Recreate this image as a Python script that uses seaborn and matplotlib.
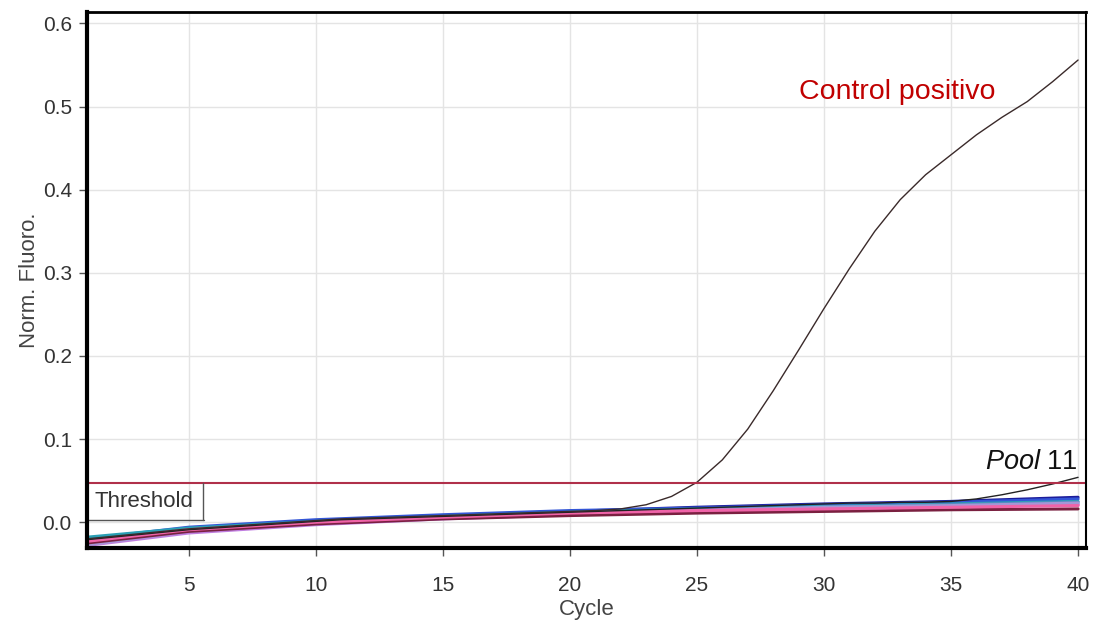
import numpy as np
import pandas as pd
import matplotlib
matplotlib.use("Agg")
import matplotlib.pyplot as plt
import seaborn as sns

# ---- data ----
cycles = list(range(1, 41))
control_positivo = [-0.020, -0.017, -0.014, -0.011, -0.008, -0.006, -0.004, -0.002, 0.000, 0.002,
                    0.004, 0.005, 0.006, 0.007, 0.008, 0.009, 0.010, 0.011, 0.012, 0.013,
                    0.014, 0.016, 0.021, 0.031, 0.048, 0.075, 0.112, 0.158, 0.207, 0.257,
                    0.305, 0.350, 0.388, 0.418, 0.442, 0.466, 0.487, 0.506, 0.530, 0.556]
pool11 = [-0.021, -0.018, -0.015, -0.012, -0.009, -0.007, -0.005, -0.003, -0.001, 0.001,
          0.003, 0.004, 0.005, 0.006, 0.007, 0.008, 0.009, 0.010, 0.011, 0.012,
          0.013, 0.014, 0.015, 0.016, 0.017, 0.018, 0.019, 0.020, 0.021, 0.022,
          0.023, 0.023, 0.024, 0.024, 0.025, 0.028, 0.033, 0.039, 0.046, 0.054]

neg_cycles = [1, 5, 10, 15, 20, 25, 30, 35, 40]
negatives = {
    "N1": [-0.022, -0.008, 0.002, 0.008, 0.013, 0.018, 0.022, 0.025, 0.030],
    "N2": [-0.020, -0.006, 0.003, 0.009, 0.014, 0.017, 0.021, 0.024, 0.028],
    "N3": [-0.018, -0.007, 0.001, 0.007, 0.012, 0.016, 0.019, 0.022, 0.025],
    "N4": [-0.024, -0.010, 0.000, 0.006, 0.011, 0.015, 0.018, 0.021, 0.024],
    "N5": [-0.026, -0.012, -0.002, 0.005, 0.010, 0.014, 0.017, 0.019, 0.021],
    "N6": [-0.028, -0.013, -0.003, 0.004, 0.009, 0.013, 0.016, 0.019, 0.022],
    "N7": [-0.027, -0.011, -0.001, 0.005, 0.010, 0.014, 0.018, 0.020, 0.023],
    "N8": [-0.025, -0.011, -0.002, 0.004, 0.008, 0.011, 0.013, 0.015, 0.016],
    "N9": [-0.023, -0.009, 0.000, 0.006, 0.011, 0.014, 0.016, 0.018, 0.020],
}
neg_colors = ["#1c1c9a", "#3355d6", "#2a9fb4", "#5b8cc2", "#e040c8",
              "#c07ee0", "#a596d6", "#7a2040", "#f063a8"]
threshold = 0.047
x_ticks = [5, 10, 15, 20, 25, 30, 35, 40]
y_ticks = [0.0, 0.1, 0.2, 0.3, 0.4, 0.5, 0.6]

# ---- plot ----
sns.set_style("whitegrid")
plt.rcParams["font.family"] = ["Liberation Sans", "DejaVu Sans"]
plt.rcParams["mathtext.fontset"] = "custom"
plt.rcParams["mathtext.rm"] = "Liberation Sans"
plt.rcParams["mathtext.it"] = "Liberation Sans:italic"

fig = plt.figure(figsize=(10.95, 6.22), dpi=100)
ax = fig.add_axes([0.0795, 0.119, 0.912, 0.862])

neg_df = pd.DataFrame([
    {"Cycle": c, "Fluoro": v, "Sample": name}
    for name, vals in negatives.items() for c, v in zip(neg_cycles, vals)
])
sns.lineplot(data=neg_df, x="Cycle", y="Fluoro", hue="Sample",
             palette=dict(zip(negatives.keys(), neg_colors)),
             linewidth=2.2, legend=False, ax=ax, estimator=None)

sns.lineplot(x=cycles, y=pool11, color="#222222", linewidth=1.0, ax=ax)
sns.lineplot(x=cycles, y=control_positivo, color="#3a2a2a", linewidth=1.0, ax=ax)

ax.axhline(threshold, color="#b0304a", linewidth=1.5)
ax.axhline(0.0025, xmin=0, xmax=0.117, color="#555555", linewidth=1.0)
ax.text(1.3, threshold / 2 + 0.002, "Threshold", fontsize=16, color="#333333",
        va="center", ha="left")
ax.plot([5.55, 5.55], [0.0025, threshold], color="#555555", linewidth=1.0)

ax.text(29.0, 0.517, "Control positivo", color="#c00000", fontsize=20.5,
        ha="left", va="center")
ax.text(40.0, 0.072, r"$\it{Pool}$ 11", color="#111111", fontsize=19.5,
        ha="right", va="center")

ax.set_xlim(1, 40.3)
ax.set_ylim(-0.031, 0.614)
ax.set_xticks(x_ticks)
ax.set_yticks(y_ticks)
ax.set_yticklabels([f"{t:.1f}" for t in y_ticks])
ax.set_xlabel("Cycle", fontsize=16, color="#444444", labelpad=3)
ax.set_ylabel("Norm. Fluoro.", fontsize=16, color="#444444", labelpad=2)
ax.tick_params(axis="both", labelsize=15, labelcolor="#333333", colors="#555555",
               length=6, width=1, direction="out", bottom=True, left=True)
ax.tick_params(axis="x", pad=14)
ax.tick_params(axis="y", pad=5)
ax.grid(True, color="#e4e4e4", linewidth=1.0)
for side, lw in (("left", 3), ("bottom", 3), ("top", 2), ("right", 1.5)):
    ax.spines[side].set_color("black")
    ax.spines[side].set_linewidth(lw)

fig.savefig("out.png", dpi=100, facecolor="white")
